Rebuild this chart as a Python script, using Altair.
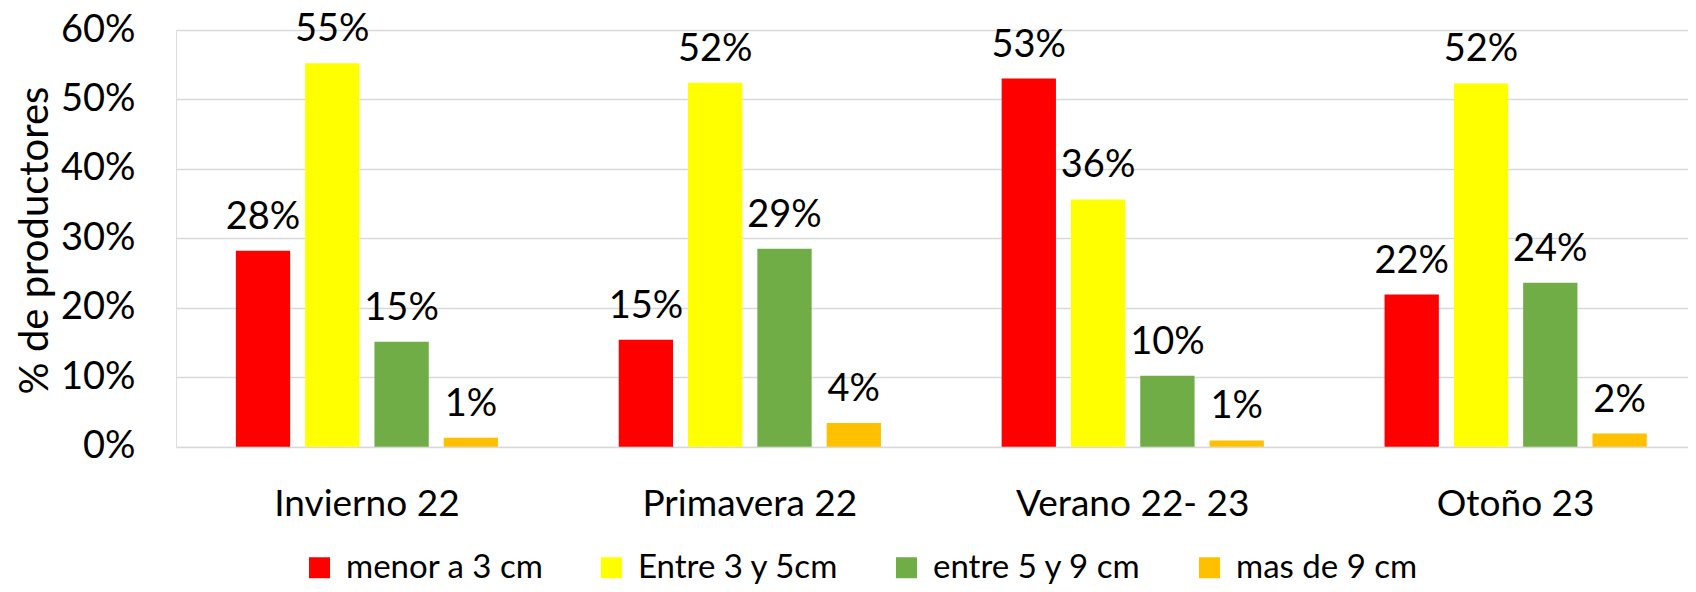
import altair as alt
import pandas as pd

estaciones = ["Invierno 22", "Primavera 22", "Verano 22- 23", "Otoño 23"]
series = ["menor a 3 cm", "Entre 3 y 5cm", "entre 5 y 9 cm", "mas de 9 cm"]
colores = ["#FF0000", "#FFFF00", "#70AD47", "#FFC000"]

menor_3 = [0.282, 0.154, 0.530, 0.219]
entre_3_5 = [0.552, 0.524, 0.356, 0.523]
entre_5_9 = [0.151, 0.285, 0.102, 0.236]
mas_9 = [0.013, 0.034, 0.009, 0.019]

etiq_menor_3 = ["28%", "15%", "53%", "22%"]
etiq_entre_3_5 = ["55%", "52%", "36%", "52%"]
etiq_entre_5_9 = ["15%", "29%", "10%", "24%"]
etiq_mas_9 = ["1%", "4%", "1%", "2%"]

y_ticks = [0, 0.1, 0.2, 0.3, 0.4, 0.5, 0.6]

rows = []
for s, vals, labs in zip(series,
                         [menor_3, entre_3_5, entre_5_9, mas_9],
                         [etiq_menor_3, etiq_entre_3_5, etiq_entre_5_9, etiq_mas_9]):
    for e, v, l in zip(estaciones, vals, labs):
        rows.append({"estacion": e, "serie": s, "valor": v, "etiqueta": l})
df = pd.DataFrame(rows)

FONT = "Lato"

x_enc = alt.X(
    "estacion:N", sort=estaciones, title=None,
    scale=alt.Scale(paddingInner=0.3152, paddingOuter=0.132, align=0.592),
    axis=alt.Axis(labelAngle=0, labelFontSize=37, labelFont=FONT, labelColor="#000000",
                  ticks=False, domain=False, labelPadding=69, labelBaseline="alphabetic",
                  labelLimit=600, grid=False),
)
xoff = alt.XOffset("serie:N", sort=series,
                   scale=alt.Scale(paddingInner=0.2165, paddingOuter=0))
y_enc = alt.Y(
    "valor:Q", title="% de productores",
    scale=alt.Scale(domain=[0, 0.6], nice=False),
    axis=alt.Axis(values=y_ticks, format=".0%", labelFontSize=38, labelFont=FONT,
                  labelColor="#000000", ticks=False, domain=False, labelPadding=41,
                  grid=True, gridColor="#d9d9d9", gridWidth=1.4,
                  titleFont=FONT, titleFontSize=40, titleFontWeight="normal",
                  titleColor="#000000", titleAngle=270, titleX=-141, titleY=210,
                  titleAlign="center", titleBaseline="middle", titleLimit=600),
)

bars = alt.Chart(df).mark_bar().encode(
    x=x_enc, xOffset=xoff, y=y_enc,
    color=alt.Color("serie:N", sort=series,
                    scale=alt.Scale(domain=series, range=colores),
                    legend=alt.Legend(title=None, orient="none", direction="horizontal",
                                      columns=4, legendX=127, legendY=521,
                                      symbolType="square", symbolSize=441,
                                      symbolStrokeWidth=0, symbolOpacity=1,
                                      labelFont=FONT, labelFontSize=33, labelColor="#000000",
                                      labelOffset=10, columnPadding=51, padding=0,
                                      labelLimit=400)),
)

labels = alt.Chart(df).mark_text(
    font=FONT, fontSize=38, color="#000000", baseline="alphabetic", dy=-22
).encode(x=x_enc, xOffset=xoff, y=y_enc, text="etiqueta:N")

chart = (bars + labels).properties(
    width=1512, height=416.7,
    autosize=alt.AutoSizeParams(type="none"),
    padding={"left": 168, "top": 22, "right": 0, "bottom": 137.3},
).configure_view(stroke=None).configure(background="#ffffff")

chart.save("out.html", embed_options={"renderer": "svg", "actions": False})
